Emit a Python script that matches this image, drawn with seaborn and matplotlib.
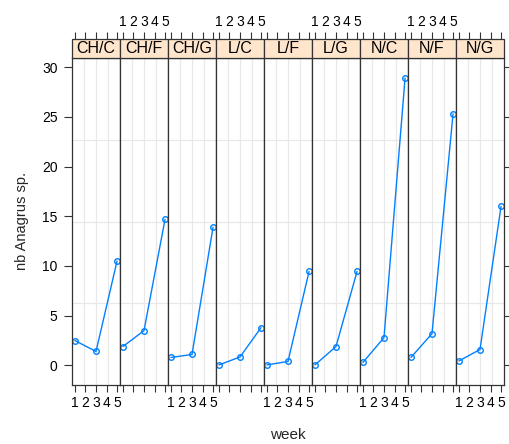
import numpy as np
import pandas as pd
import matplotlib
matplotlib.use("Agg")
import matplotlib.pyplot as plt
from matplotlib.patches import Rectangle
import seaborn as sns

sns.set_theme(style="white")
plt.rcParams['font.family'] = ['Liberation Sans', 'DejaVu Sans']

# treatment panels and counts (weeks 1, 3, 5)
panels = ["CH/C", "CH/F", "CH/G", "L/C", "L/F", "L/G", "N/C", "N/F", "N/G"]
weeks = [1, 3, 5]
wk1 = [2.5, 1.9, 0.8, 0.05, 0.05, 0.05, 0.3, 0.8, 0.45]
wk3 = [1.4, 3.5, 1.1, 0.85, 0.4, 1.9, 2.8, 3.2, 1.6]
wk5 = [10.5, 14.7, 13.9, 3.8, 9.45, 9.45, 28.9, 25.3, 16.0]
week_ticks = [1, 2, 3, 4, 5]
y_ticks = [0, 5, 10, 15, 20, 25, 30]

rows = []
for i, p in enumerate(panels):
    for w, v in zip(weeks, [wk1[i], wk3[i], wk5[i]]):
        rows.append({"trt": p, "week": w, "nb": v})
df = pd.DataFrame(rows)

blue = "#0080ff"
edge = "#333333"
g = sns.relplot(data=df, x="week", y="nb", col="trt", col_order=panels,
                kind="line", color=blue, marker="o", markersize=4,
                markerfacecolor="none", markeredgecolor=blue, markeredgewidth=1,
                linewidth=1, errorbar=None, height=4.44, aspect=0.13,
                facet_kws=dict(despine=False, sharex=True, sharey=True))
fig = g.figure
fig.set_size_inches(5.09, 4.44)
fig.subplots_adjust(left=72/509, right=504/509, bottom=1-385/444, top=1-58/444, wspace=0)
g.set_titles("")
g.set_axis_labels("", "")

# lattice style limits: 7% padding
x0, x1 = min(week_ticks) - 0.07*4, max(week_ticks) + 0.07*4
lo, hi = df["nb"].min(), df["nb"].max()
pad = 0.07*(hi - lo)
y0, y1 = lo - pad, hi + pad
strip = 19/327

for i, (ax, name) in enumerate(zip(g.axes.flat, panels)):
    ax.set_xlim(x0, x1)
    ax.set_ylim(y0, y1)
    ax.set_xticks(week_ticks)
    ax.set_yticks(y_ticks)
    for f in (0.25, 0.5, 0.75):
        ax.axvline(x0 + f*(x1-x0), color="#e8e8e8", lw=0.9, zorder=0)
        ax.axhline(y0 + f*(y1-y0), color="#e8e8e8", lw=0.9, zorder=0)
    for s in ax.spines.values():
        s.set_color(edge)
        s.set_linewidth(0.9)
    ax.tick_params(axis="x", direction="out", length=5, width=0.8, color=edge,
                   bottom=True, labelbottom=(i % 2 == 0), labelsize=10,
                   pad=3, labelcolor="black")
    ax.tick_params(axis="y", direction="out", length=5.5, width=0.8, color=edge,
                   left=(i == 0), labelleft=(i == 0),
                   right=(i == len(panels)-1), labelright=False,
                   labelsize=10, pad=5, labelcolor="black")
    sec = ax.secondary_xaxis(1 + strip)
    sec.set_xticks(week_ticks)
    sec.tick_params(axis="x", top=True, bottom=False, labeltop=(i % 2 == 1),
                    labelbottom=False, direction="out", length=5, width=0.8,
                    color=edge, labelsize=10, pad=2, labelcolor="black")
    for s in sec.spines.values():
        s.set_visible(False)
    ax.add_patch(Rectangle((0, 1), 1, strip, transform=ax.transAxes,
                           facecolor="#ffe5cc", edgecolor=edge, lw=0.9,
                           clip_on=False, zorder=3))
    ax.text(0.5, 1 + strip/2, name, transform=ax.transAxes, ha="center",
            va="center", fontsize=11.5, color="black", zorder=4)

fig.text(22/509, 1-221/444, "nb Anagrus sp.", rotation=90, ha="center",
         va="center", fontsize=10.5)
fig.text(288/509, 1-435/444, "week", ha="center", va="center", fontsize=11)

fig.savefig("out.png", dpi=100)
